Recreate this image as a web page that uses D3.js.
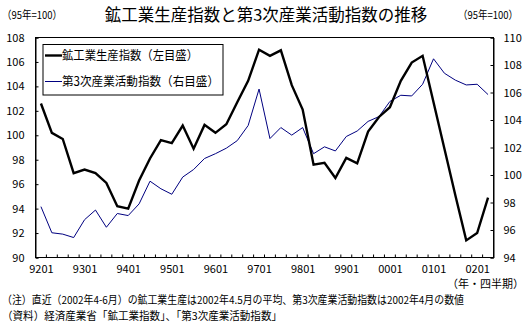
<!DOCTYPE html>
<html>
<head>
<meta charset="utf-8">
<script src="https://cdn.jsdelivr.net/npm/d3@7"></script>
<style>
  html, body { margin: 0; padding: 0; background: #fff; }
  svg { display: block; font-family: "Noto Sans CJK JP", "Noto Sans", sans-serif; }
</style>
</head>
<body>
<svg id="chart" width="527" height="325"></svg>
<script>
const quarters = [
  "9201","9202","9203","9204","9301","9302","9303","9304",
  "9401","9402","9403","9404","9501","9502","9503","9504",
  "9601","9602","9603","9604","9701","9702","9703","9704",
  "9801","9802","9803","9804","9901","9902","9903","9904",
  "0001","0002","0003","0004","0101","0102","0103","0104",
  "0201","0202"
];
const xTickLabels = ["9201","9301","9401","9501","9601","9701","9801","9901","0001","0101","0201"];

const miningIndex = [
  102.6,100.2,99.7,96.9,97.2,96.9,96.1,94.2,
  94.0,96.3,98.1,99.6,99.35,100.8,98.9,100.85,
  100.2,100.9,102.7,104.45,107.0,106.5,106.95,104.1,
  102.1,97.6,97.75,96.5,98.15,97.7,100.3,101.5,
  102.3,104.45,105.95,106.5,102.7,98.9,95.1,91.4,
  92.0,94.9
];
const tertiaryIndex = [
  97.7,95.8,95.7,95.45,96.75,97.45,96.2,97.2,
  97.05,97.9,99.55,99.0,98.6,99.85,100.4,101.2,
  101.55,101.95,102.5,103.6,106.25,102.65,103.45,102.9,
  103.45,101.55,102.05,101.75,102.8,103.2,103.9,104.25,
  105.35,105.8,105.75,106.6,108.45,107.4,106.9,106.55,
  106.6,105.85
];
const leftTicks = [90,92,94,96,98,100,102,104,106,108];
const rightTicks = [94,96,98,100,102,104,106,108,110];

const title = "鉱工業生産指数と第3次産業活動指数の推移";
const unitLabel = "（95年=100）";
const seriesNames = ["鉱工業生産指数（左目盛）", "第3次産業活動指数（右目盛）"];
const xUnit = "（年・四半期）";
const note1 = "（注）直近（2002年4-6月）の鉱工業生産は2002年4.5月の平均、第3次産業活動指数は2002年4月の数値";
const note2 = "（資料）経済産業省「鉱工業指数」、「第3次産業活動指数」";

const svg = d3.select("#chart");
const L = 35.5, R = 493.5, T = 37.5, B = 257.5;

const x = d3.scaleBand().domain(quarters).range([L, R]).padding(0);
const yL = d3.scaleLinear().domain([90, 108]).range([B, T]);
const yR = d3.scaleLinear().domain([94, 110]).range([B, T]);
const cx = d => x(d) + x.bandwidth() / 2;

// title & units
svg.append("text").attr("x", 266).attr("y", 21).attr("text-anchor", "middle")
  .attr("font-size", 16.5).attr("fill", "#000").text(title);
svg.append("text").attr("x", 2).attr("y", 19).attr("font-size", 11).attr("fill", "#000")
  .attr("textLength", 60).attr("lengthAdjust", "spacingAndGlyphs").text(unitLabel);
svg.append("text").attr("x", 458).attr("y", 19).attr("font-size", 11).attr("fill", "#000")
  .attr("textLength", 60).attr("lengthAdjust", "spacingAndGlyphs").text(unitLabel);

// frame
svg.append("rect").attr("x", L).attr("y", T).attr("width", R - L).attr("height", B - T)
  .attr("fill", "none").attr("stroke", "#000").attr("stroke-width", 1);

// left axis
const gL = svg.append("g").attr("transform", `translate(${L},0)`)
  .call(d3.axisLeft(yL).tickValues(leftTicks).tickSize(-3).tickPadding(11).tickFormat(d3.format("d")));
// right axis
const gR = svg.append("g").attr("transform", `translate(${R},0)`)
  .call(d3.axisRight(yR).tickValues(rightTicks).tickSize(-3).tickPadding(10).tickFormat(d3.format("d")));
[gL, gR].forEach(g => {
  g.select(".domain").attr("stroke", "#000");
  g.selectAll(".tick line").attr("stroke", "#000");
  g.selectAll(".tick text").attr("font-size", 11).attr("fill", "#000")
    .attr("font-family", "'Noto Sans CJK JP', sans-serif");
});

// x tick marks at band boundaries (inside)
const boundaries = quarters.map(q => x(q)).concat([R]);
svg.append("g").selectAll("line").data(boundaries).join("line")
  .attr("x1", d => d).attr("x2", d => d).attr("y1", B).attr("y2", B - 3)
  .attr("stroke", "#000");

// x labels via axis
const xLab = d3.scalePoint().domain(quarters).range([cx(quarters[0]), cx(quarters[quarters.length - 1])]);
const gX = svg.append("g").attr("transform", `translate(0,${B})`)
  .call(d3.axisBottom(xLab).tickValues(xTickLabels).tickSize(0).tickPadding(8));
gX.select(".domain").remove();
gX.selectAll(".tick text").attr("font-size", 11).attr("fill", "#000")
  .attr("font-family", "'Noto Sans CJK JP', sans-serif");

// lines
const lineL = d3.line().x((d, i) => cx(quarters[i])).y(d => yL(d));
const lineR = d3.line().x((d, i) => cx(quarters[i])).y(d => yR(d));
svg.append("path").datum(tertiaryIndex).attr("d", lineR)
  .attr("fill", "none").attr("stroke", "#000080").attr("stroke-width", 1);
svg.append("path").datum(miningIndex).attr("d", lineL)
  .attr("fill", "none").attr("stroke", "#000").attr("stroke-width", 2.4)
  .attr("stroke-linejoin", "miter");

// legend
const lg = svg.append("g");
lg.append("rect").attr("x", 43).attr("y", 44.5).attr("width", 180).attr("height", 50.5)
  .attr("fill", "#fff").attr("stroke", "#000").attr("stroke-width", 1);
const legendY = [55.5, 81.5];
const legendStroke = [["#000", 2.4], ["#000080", 1]];
seriesNames.forEach((name, i) => {
  lg.append("line").attr("x1", 45).attr("x2", 62).attr("y1", legendY[i]).attr("y2", legendY[i])
    .attr("stroke", legendStroke[i][0]).attr("stroke-width", legendStroke[i][1]);
  lg.append("text").attr("x", 62).attr("y", legendY[i]).attr("dy", "0.36em")
    .attr("font-size", 12.5).attr("fill", "#000")
    .attr("textLength", i === 0 ? 136 : 157).attr("lengthAdjust", "spacingAndGlyphs").text(name);
});

// bottom texts
svg.append("text").attr("x", 524).attr("y", 284).attr("dy", "0.36em").attr("text-anchor", "end")
  .attr("font-size", 11).attr("fill", "#000").text(xUnit);
svg.append("text").attr("x", 2).attr("y", 300).attr("dy", "0.36em")
  .attr("font-size", 11).attr("fill", "#000")
  .attr("textLength", 462).attr("lengthAdjust", "spacingAndGlyphs").text(note1);
svg.append("text").attr("x", 2).attr("y", 316).attr("dy", "0.36em")
  .attr("font-size", 11).attr("fill", "#000")
  .attr("textLength", 280).attr("lengthAdjust", "spacingAndGlyphs").text(note2);
</script>
</body>
</html>
